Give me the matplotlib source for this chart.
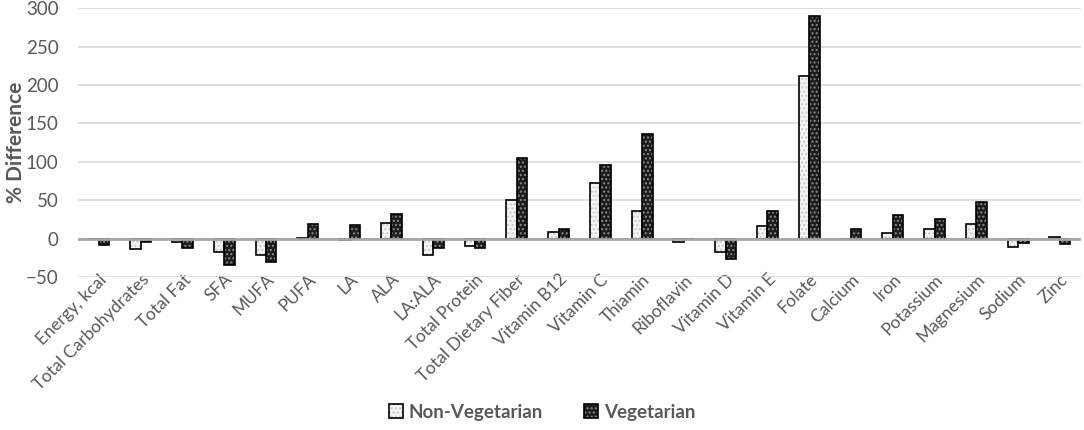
import matplotlib
matplotlib.use("Agg")
from matplotlib import pyplot as plt
from matplotlib.patches import Patch
import numpy as np

# nutrient categories and % difference values
nutrients = ["Energy, kcal", "Total Carbohydrates", "Total Fat", "SFA", "MUFA",
             "PUFA", "LA", "ALA", "LA:ALA", "Total Protein", "Total Dietary Fiber",
             "Vitamin B12", "Vitamin C", "Thiamin", "Riboflavin", "Vitamin D",
             "Vitamin E", "Folate", "Calcium", "Iron", "Potassium", "Magnesium",
             "Sodium", "Zinc"]
non_veg = [0, -14, -4, -17, -21, 1, -2, 20, -21, -10, 50, 8, 72, 36, -5, -18,
           16, 212, 0, 7, 13, 19, -11, 2]
veg = [-8, -5, -12, -34, -31, 19, 17, 32, -12, -12, 105, 12, 96, 136, 0, -27,
       36, 290, 13, 31, 25, 47, -6, -7]
yticks = [-50, 0, 50, 100, 150, 200, 250, 300]

plt.rcParams['font.family'] = ['Lato', 'DejaVu Sans']
plt.rcParams['hatch.linewidth'] = 1.0
grey_txt = '#595959'

fig = plt.figure(figsize=(10.84, 4.30), dpi=100)
ax = fig.add_axes([0.072, 0.356, 0.925, 0.625])

x = np.arange(len(nutrients))
w = 0.25

# fill + dotted pattern, then black outline on top
ax.bar(x - w/2, non_veg, w, color='#f2f4f6', edgecolor='#c4cacf', hatch='....', lw=0, zorder=3)
ax.bar(x - w/2, non_veg, w, fill=False, edgecolor='black', lw=1.2, zorder=4)
ax.bar(x + w/2, veg, w, color='#1c1c1c', edgecolor='#8a8a8a', hatch='....', lw=0, zorder=3)
ax.bar(x + w/2, veg, w, fill=False, edgecolor='black', lw=1.2, zorder=4)

ax.set_xlim(-0.5, len(nutrients) - 0.5)
ax.set_ylim(-50, 300)
ax.set_yticks(yticks)
ax.yaxis.grid(True, color='#d9d9d9', lw=1.2, zorder=0)
ax.axhline(0, color='#a6a6a6', lw=2, zorder=5)
for s in ax.spines.values():
    s.set_visible(False)

ax.tick_params(axis='both', length=0, colors=grey_txt)
ax.tick_params(axis='y', labelsize=13.5, pad=14)
ax.set_xticks(x)
ax.set_xticklabels(nutrients, rotation=45, ha='right', rotation_mode='anchor',
                   fontsize=12.5, color=grey_txt)
ax.tick_params(axis='x', pad=-4)
ax.set_ylabel('% Difference', fontsize=15, fontweight='bold', color=grey_txt, labelpad=0)

h1 = (Patch(facecolor='#f2f4f6', edgecolor='#c4cacf', hatch='....', lw=0),
      Patch(fill=False, edgecolor='black', lw=1.2))
h2 = (Patch(facecolor='#1c1c1c', edgecolor='#8a8a8a', hatch='....', lw=0),
      Patch(fill=False, edgecolor='black', lw=1.2))
leg = fig.legend([h1, h2], ['Non-Vegetarian', 'Vegetarian'], loc='lower center',
                 bbox_to_anchor=(0.5, -0.018), ncol=2, frameon=False,
                 handlelength=0.75, handleheight=0.75, handletextpad=0.3,
                 columnspacing=2.2, prop={'size': 13.5, 'weight': 'bold'})
for t in leg.get_texts():
    t.set_color(grey_txt)

fig.savefig('out.png', dpi=100)
